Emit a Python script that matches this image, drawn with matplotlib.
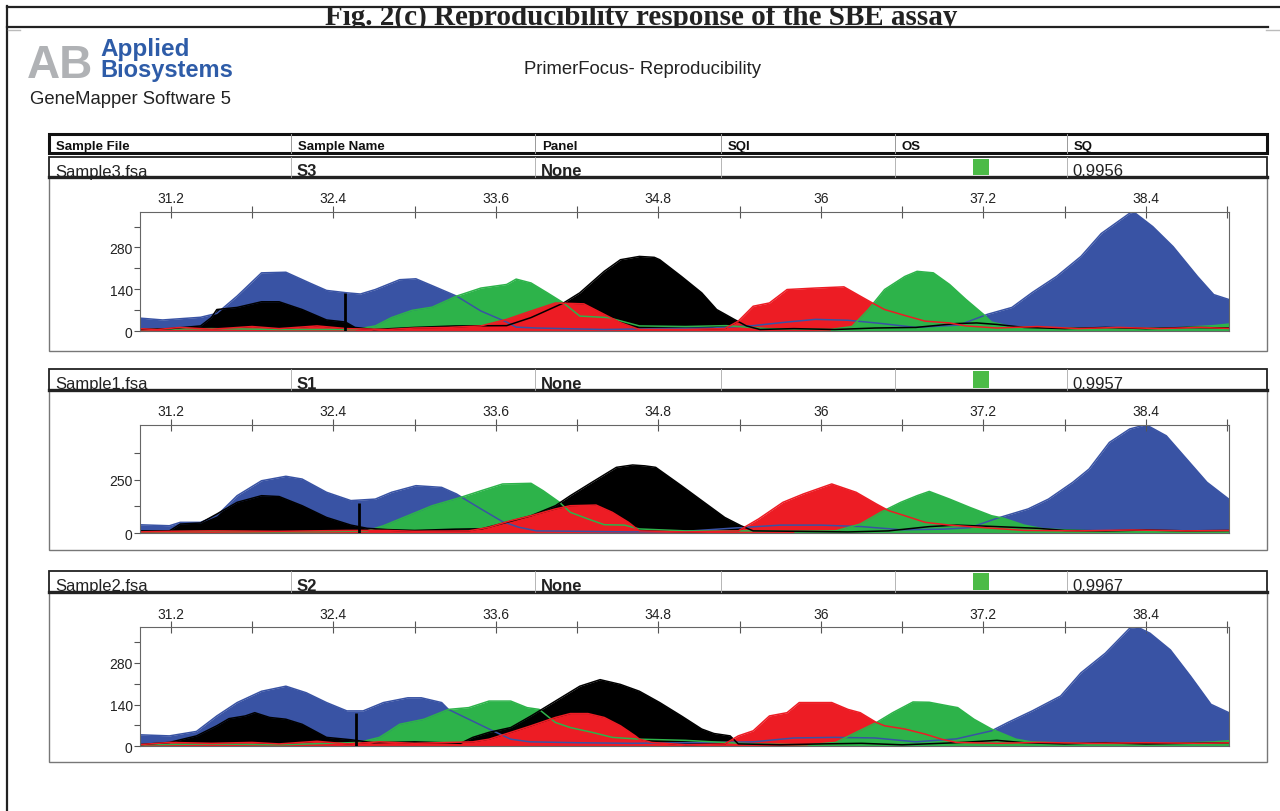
import matplotlib
matplotlib.use('Agg')
import numpy as np
import matplotlib.pyplot as plt
from matplotlib.patches import Rectangle

plt.rcParams['font.family'] = ['Liberation Sans', 'DejaVu Sans']

W, H = 1280, 812

BLUE = '#3953a4'
GREEN = '#2db34a'
RED = '#ed1c24'
BLACK = '#000000'

TITLE = 'Fig. 2(c) Reproducibility response of the SBE assay'
REPORT = 'PrimerFocus- Reproducibility'

COLUMNS = ['Sample File', 'Sample Name', 'Panel', 'SQI', 'OS', 'SQ']
SAMPLE_FILES = ['Sample3.fsa', 'Sample1.fsa', 'Sample2.fsa']
SAMPLE_NAMES = ['S3', 'S1', 'S2']
PANELS = ['None', 'None', 'None']
SQ_VALUES = ['0.9956', '0.9957', '0.9967']

X_TICKS = [31.2, 32.4, 33.6, 34.8, 36.0, 37.2, 38.4]
X_TICK_LABELS = ['31.2', '32.4', '33.6', '34.8', '36', '37.2', '38.4']
X_MINOR = [31.8, 33.0, 34.2, 35.4, 36.6, 37.8, 39.0]

Y_MAX = [400, 508, 400]
Y_MAJOR = [[0, 140, 280], [0, 250], [0, 140, 280]]
Y_MINOR = [[70, 210, 350], [125, 375], [70, 210, 350]]
MARKER_X = [32.49, 32.59, 32.57]
MARKER_TOP = [128, 141, 113]

# the second green peak is painted over the red one
GREEN_ON_TOP_FROM = 35.8

# ---- Sample3 traces
S3_BLUE_X = [30.95, 31.14, 31.42, 31.54, 31.69, 31.87, 32.05, 32.23, 32.35, 32.5, 32.6, 32.71, 32.89, 33.01, 33.14, 33.31,
             33.49, 33.68, 33.75, 33.9, 34.1, 34.4, 34.8, 35.2, 35.5, 35.75, 35.96, 36.2, 36.45, 36.7, 37.02, 37.23, 37.41,
             37.56, 37.74, 37.92, 38.07, 38.28, 38.31, 38.45, 38.6, 38.78, 38.9, 39.05]
S3_BLUE_Y = [44, 37, 46, 59, 117, 195, 197, 160, 136, 128, 124, 139, 172, 175, 150, 117,
             67, 30, 13, 10, 8, 5, 8, 10, 18, 30, 39, 36, 25, 12, 20, 56, 79,
             129, 183, 250, 327, 395, 399, 350, 283, 183, 122, 100]
S3_BLACK_X = [30.95, 31.2, 31.42, 31.5, 31.54, 31.69, 31.87, 32.0, 32.17, 32.35, 32.49, 32.56, 32.7, 33.0, 33.3, 33.68,
              33.86, 34.1, 34.22, 34.4, 34.52, 34.66, 34.77, 34.81, 34.97, 35.12, 35.23, 35.36, 35.45, 35.55, 35.8, 36.1,
              36.4, 36.7, 37.0, 37.15, 37.3, 37.5, 37.8, 38.1, 38.4, 38.7, 39.05]
S3_BLACK_Y = [5, 8, 17, 45, 72, 79, 98, 98, 72, 37, 30, 12, 5, 12, 17, 18,
              45, 94, 128, 200, 239, 250, 247, 239, 183, 128, 72, 39, 17, 5, 8, 5,
              10, 12, 25, 27, 22, 12, 8, 12, 8, 12, 10]
S3_GREEN_X = [30.95, 31.5, 32.0, 32.56, 32.71, 32.83, 32.98, 33.13, 33.31, 33.49, 33.68, 33.75, 33.86, 33.98, 34.1, 34.22,
              34.43, 34.66, 35.0, 35.3, 35.6, 36.07, 36.23, 36.35, 36.47, 36.62, 36.71, 36.83, 36.95, 37.07, 37.2, 37.26,
              37.4, 37.8, 38.2, 38.6, 38.9, 39.05]
S3_GREEN_Y = [5, 8, 5, 5, 17, 45, 69, 80, 117, 144, 156, 174, 161, 128, 94, 50,
              45, 17, 15, 18, 8, 5, 15, 72, 139, 183, 200, 195, 156, 106, 56, 30,
              15, 10, 8, 10, 18, 25]
S3_RED_X = [30.95, 31.1, 31.27, 31.5, 31.8, 32.0, 32.28, 32.5, 32.8, 33.0, 33.25, 33.49, 33.68, 33.86, 34.04, 34.25,
            34.4, 34.52, 34.66, 35.0, 35.29, 35.39, 35.5, 35.62, 35.75, 35.96, 36.17, 36.29, 36.38, 36.47, 36.62, 36.77,
            36.95, 37.07, 37.3, 37.6, 37.9, 38.2, 38.5, 38.8, 39.05]
S3_RED_Y = [8, 5, 12, 6, 15, 8, 17, 8, 5, 10, 12, 17, 39, 67, 94, 91,
            56, 28, 5, 5, 8, 33, 83, 94, 139, 144, 148, 117, 94, 72, 52, 33,
            27, 17, 10, 15, 8, 12, 8, 12, 8]

# ---- Sample1 traces
S1_BLUE_X = [30.95, 31.19, 31.27, 31.42, 31.54, 31.69, 31.87, 32.05, 32.17, 32.35, 32.53, 32.71, 32.83, 33.01, 33.2, 33.31,
             33.37, 33.49, 33.65, 33.77, 33.9, 34.2, 34.6, 35.0, 35.4, 35.7, 36.0, 36.3, 36.6, 36.9, 37.1, 37.3, 37.53,
             37.68, 37.86, 37.98, 38.13, 38.28, 38.4, 38.55, 38.7, 38.85, 39.05]
S1_BLUE_Y = [39, 34, 50, 50, 81, 175, 245, 266, 253, 191, 152, 159, 191, 222, 214, 183,
             159, 113, 53, 27, 10, 8, 5, 8, 25, 37, 37, 30, 15, 18, 25, 69, 113,
             159, 238, 300, 425, 488, 508, 456, 347, 238, 140]
S1_BLACK_X = [30.95, 31.19, 31.27, 31.42, 31.54, 31.69, 31.87, 32.0, 32.17, 32.35, 32.53, 32.65, 32.8, 33.0, 33.3, 33.5,
              33.68, 33.86, 34.04, 34.15, 34.31, 34.49, 34.61, 34.7, 34.78, 34.97, 35.12, 35.29, 35.41, 35.5, 35.8, 36.2,
              36.5, 36.8, 37.0, 37.3, 37.6, 37.8, 38.1, 38.4, 38.7, 39.05]
S1_BLACK_Y = [10, 10, 42, 47, 89, 144, 175, 171, 128, 73, 37, 22, 16, 12, 18, 20,
              50, 81, 128, 175, 238, 308, 319, 315, 308, 222, 152, 73, 34, 10, 8, 5,
              10, 30, 37, 30, 22, 12, 10, 14, 10, 12]
S1_GREEN_X = [30.95, 31.5, 32.0, 32.5, 32.65, 32.77, 32.95, 33.13, 33.34, 33.49, 33.65, 33.86, 33.95, 34.07, 34.15, 34.28,
              34.4, 34.55, 34.66, 35.0, 35.5, 35.8, 36.11, 36.29, 36.44, 36.59, 36.71, 36.8, 36.95, 37.1, 37.26, 37.35,
              37.5, 37.65, 38.0, 38.5, 39.05]
S1_GREEN_Y = [5, 8, 5, 8, 10, 34, 81, 128, 167, 198, 230, 233, 198, 144, 97, 66,
              39, 37, 19, 10, 10, 8, 10, 42, 97, 144, 175, 195, 159, 120, 81, 69,
              37, 19, 10, 8, 10]
S1_RED_X = [30.95, 31.2, 31.5, 32.0, 32.5, 32.8, 33.0, 33.4, 33.55, 33.71, 33.86, 34.04, 34.15, 34.34, 34.46, 34.58,
            34.66, 35.0, 35.39, 35.54, 35.72, 35.87, 36.08, 36.26, 36.41, 36.5, 36.62, 36.77, 36.95, 37.16, 37.5, 37.9,
            38.3, 38.7, 39.05]
S1_RED_Y = [5, 8, 10, 8, 12, 12, 8, 10, 27, 58, 81, 113, 128, 131, 97, 50,
            10, 5, 10, 66, 144, 183, 230, 191, 136, 105, 81, 50, 37, 27, 12, 10,
            14, 10, 12]

# ---- Sample2 traces
S2_BLUE_X = [30.95, 31.19, 31.39, 31.54, 31.69, 31.87, 32.05, 32.2, 32.35, 32.5, 32.62, 32.77, 32.95, 33.05, 33.2, 33.25,
             33.4, 33.55, 33.71, 33.85, 34.2, 34.6, 35.0, 35.5, 35.8, 36.1, 36.4, 36.7, 37.0, 37.26, 37.38, 37.56, 37.77,
             37.92, 38.1, 38.28, 38.34, 38.43, 38.58, 38.73, 38.88, 39.05]
S2_BLUE_Y = [39, 35, 50, 102, 147, 185, 202, 180, 147, 119, 119, 147, 163, 163, 147, 124,
             91, 58, 24, 15, 12, 10, 12, 15, 28, 30, 28, 15, 25, 52, 80, 119, 169,
             247, 313, 397, 400, 380, 324, 235, 141, 105]
S2_BLACK_X = [30.95, 31.19, 31.39, 31.54, 31.63, 31.75, 31.82, 31.93, 32.05, 32.17, 32.35, 32.53, 32.7, 33.0, 33.34, 33.43,
              33.55, 33.71, 33.86, 34.04, 34.22, 34.37, 34.52, 34.66, 34.81, 34.97, 35.12, 35.21, 35.33, 35.39, 35.7, 36.0,
              36.3, 36.6, 37.0, 37.3, 37.5, 37.8, 38.1, 38.4, 38.7, 39.05]
S2_BLACK_Y = [5, 13, 35, 69, 93, 102, 113, 97, 91, 74, 30, 22, 12, 15, 10, 30,
              47, 63, 102, 152, 202, 224, 208, 185, 147, 102, 58, 43, 35, 8, 5, 8,
              10, 5, 12, 20, 12, 8, 12, 8, 10, 12]
S2_GREEN_X = [30.95, 31.5, 32.0, 32.59, 32.74, 32.8, 32.89, 33.07, 33.25, 33.4, 33.55, 33.71, 33.83, 33.92, 34.04, 34.15,
              34.31, 34.46, 34.66, 35.0, 35.2, 35.5, 35.9, 36.11, 36.26, 36.41, 36.53, 36.68, 36.8, 36.95, 37.01, 37.13,
              37.26, 37.44, 37.55, 38.0, 38.5, 38.9, 39.05]
S2_GREEN_Y = [5, 8, 5, 13, 30, 47, 74, 91, 124, 130, 152, 152, 130, 124, 80, 63,
              47, 30, 24, 20, 15, 8, 5, 13, 47, 80, 113, 149, 148, 135, 130, 91,
              58, 24, 15, 8, 8, 15, 20]
S2_RED_X = [30.95, 31.2, 31.5, 31.8, 32.0, 32.28, 32.5, 32.74, 33.0, 33.25, 33.43, 33.55, 33.71, 33.86, 34.04, 34.15,
            34.28, 34.4, 34.52, 34.63, 34.66, 34.75, 35.0, 35.29, 35.39, 35.5, 35.62, 35.75, 35.84, 36.08, 36.2, 36.29,
            36.41, 36.47, 36.62, 36.77, 36.89, 37.0, 37.3, 37.6, 38.0, 38.4, 38.8, 39.05]
S2_RED_Y = [5, 13, 10, 13, 8, 17, 8, 15, 10, 13, 15, 24, 47, 69, 97, 110,
            110, 97, 69, 35, 24, 13, 5, 8, 35, 52, 102, 113, 147, 147, 124, 113,
            80, 69, 58, 41, 24, 13, 10, 13, 10, 12, 10, 12]

# fill order: blue, green, black, red
TRACES = [
    [(S3_BLUE_X, S3_BLUE_Y, BLUE), (S3_GREEN_X, S3_GREEN_Y, GREEN), (S3_BLACK_X, S3_BLACK_Y, BLACK), (S3_RED_X, S3_RED_Y, RED)],
    [(S1_BLUE_X, S1_BLUE_Y, BLUE), (S1_GREEN_X, S1_GREEN_Y, GREEN), (S1_BLACK_X, S1_BLACK_Y, BLACK), (S1_RED_X, S1_RED_Y, RED)],
    [(S2_BLUE_X, S2_BLUE_Y, BLUE), (S2_GREEN_X, S2_GREEN_Y, GREEN), (S2_BLACK_X, S2_BLACK_Y, BLACK), (S2_RED_X, S2_RED_Y, RED)],
]

# ---- page layout in pixels
TABLE_L, TABLE_R = 49, 1266.5
COL_X = [49, 290.6, 534.7, 720.8, 895, 1066.5]
HEADER_TOP, HEADER_BOT = 135, 154
ROW_TOP = [158, 370, 572]
ROW_BOT = [178, 391, 593]
PANEL_BOT = [352, 551, 763]
AX_L, AX_R = 139.6, 1228.6
AX_TOP = [212.7, 425.7, 628.3]
AX_BOT = [332, 534, 747.3]

fig = plt.figure(figsize=(W / 100, H / 100), dpi=100)
fig.patch.set_facecolor('white')

page = fig.add_axes([0, 0, 1, 1])
page.set_xlim(0, W)
page.set_ylim(H, 0)
page.axis('off')
page.patch.set_visible(False)

# page frame lines
page.plot([7, W], [7.5, 7.5], color='#222222', lw=1.6)
page.plot([7, 1268], [27.5, 27.5], color='#222222', lw=1.6)
page.plot([7, 7], [7, H], color='#222222', lw=1.6)
page.plot([8, 20], [31, 31], color='#bbbbbb', lw=1)
page.plot([1266, W], [31, 31], color='#bbbbbb', lw=1)

# title, clipped by the page lines
tax = fig.add_axes([0, 1 - 27 / H, 1, 19.5 / H])
tax.set_xlim(0, W)
tax.set_ylim(27, 7.5)
tax.axis('off')
tax.patch.set_visible(False)
tax.text(641, 24.5, TITLE, ha='center', va='baseline', fontsize=21, fontweight='bold',
         family=['Liberation Serif', 'DejaVu Serif'], color='#222222', clip_on=True)

# logo
page.text(27, 78, 'AB', fontsize=33, fontweight='bold', color='#b0b2b5', va='baseline', ha='left')
page.plot([38, 50, 66, 80], [80, 63, 53, 38], color='white', lw=2.2)
page.plot([42, 56, 70, 86], [38, 49, 62, 80], color='white', lw=1.6)
page.text(100, 56, 'Applied', fontsize=17.5, fontweight='bold', color='#2e5ca8', va='baseline')
page.text(100, 77, 'Biosystems', fontsize=17, fontweight='bold', color='#2e5ca8', va='baseline')
page.text(30, 100, 'GeneMapper Software 5', fontsize=13.3, color='#222222', va='center')
page.text(643, 70, REPORT, fontsize=13.3, color='#222222', va='center', ha='center')

# table header
page.add_patch(Rectangle((TABLE_L, HEADER_TOP), TABLE_R - TABLE_L, HEADER_BOT - HEADER_TOP,
                         fill=False, ec='#111111', lw=2.2))
for cx in COL_X[1:]:
    page.plot([cx, cx], [HEADER_TOP, HEADER_BOT], color='#999999', lw=0.7)
for cx, name in zip(COL_X, COLUMNS):
    page.text(cx + 7, HEADER_BOT - 4, name, fontsize=9.5, fontweight='bold', color='#111111', va='baseline')

for i in range(3):
    top, bot = ROW_TOP[i], ROW_BOT[i]
    # sample row
    page.add_patch(Rectangle((TABLE_L, top), TABLE_R - TABLE_L, bot - top, fill=False, ec='#222222', lw=1.3))
    page.plot([TABLE_L, TABLE_R], [bot, bot], color='#222222', lw=2.4)
    for cx in COL_X[1:]:
        page.plot([cx, cx], [top, bot], color='#aaaaaa', lw=0.6)
    values = [SAMPLE_FILES[i], SAMPLE_NAMES[i], PANELS[i], '', '', SQ_VALUES[i]]
    bolds = [False, True, True, False, False, False]
    for cx, v, b in zip(COL_X, values, bolds):
        page.text(cx + 6, bot - 1.5, v, fontsize=12, fontweight='bold' if b else 'normal',
                  color='#222222', va='baseline')
    page.add_patch(Rectangle((972.6, top + 1.8), 16.5, bot - top - 4, color='#4cbb47', lw=0))
    # plot frame
    page.add_patch(Rectangle((TABLE_L, bot), TABLE_R - TABLE_L, PANEL_BOT[i] - bot,
                             fill=False, ec='#777777', lw=1))

    # electropherogram
    ax = fig.add_axes([AX_L / W, 1 - AX_BOT[i] / H, (AX_R - AX_L) / W, (AX_BOT[i] - AX_TOP[i]) / H])
    ax.set_xlim(30.97, 39.01)
    ax.set_ylim(0, Y_MAX[i])
    for xs, ys, c in TRACES[i]:
        ax.fill_between(xs, 0, ys, color=c, lw=0, zorder=1)
    gx, gy, gc = TRACES[i][1]
    gx = np.array(gx)
    ax.fill_between(gx, 0, gy, where=gx >= GREEN_ON_TOP_FROM, color=gc, lw=0, zorder=1.5)
    for xs, ys, c in TRACES[i]:
        ax.plot(xs, ys, color=c, lw=1.1, zorder=2)
    ax.vlines(MARKER_X[i], 0, MARKER_TOP[i], color='black', lw=2, zorder=3)

    ax.xaxis.tick_top()
    ax.set_xticks(X_TICKS)
    ax.set_xticklabels(X_TICK_LABELS)
    ax.set_xticks(X_MINOR, minor=True)
    ax.set_yticks(Y_MAJOR[i])
    ax.set_yticks(Y_MINOR[i], minor=True)
    ax.tick_params(axis='x', which='both', direction='inout', length=8, width=0.8, color='#555555',
                   labelsize=10, labelcolor='#222222', pad=0.5)
    ax.tick_params(axis='y', which='both', direction='out', length=4, width=0.8, color='#555555',
                   labelsize=10, labelcolor='#222222', pad=1)
    for sp in ax.spines.values():
        sp.set_color('#666666')
        sp.set_linewidth(0.8)

fig.savefig('out.png', dpi=100, facecolor='white')
